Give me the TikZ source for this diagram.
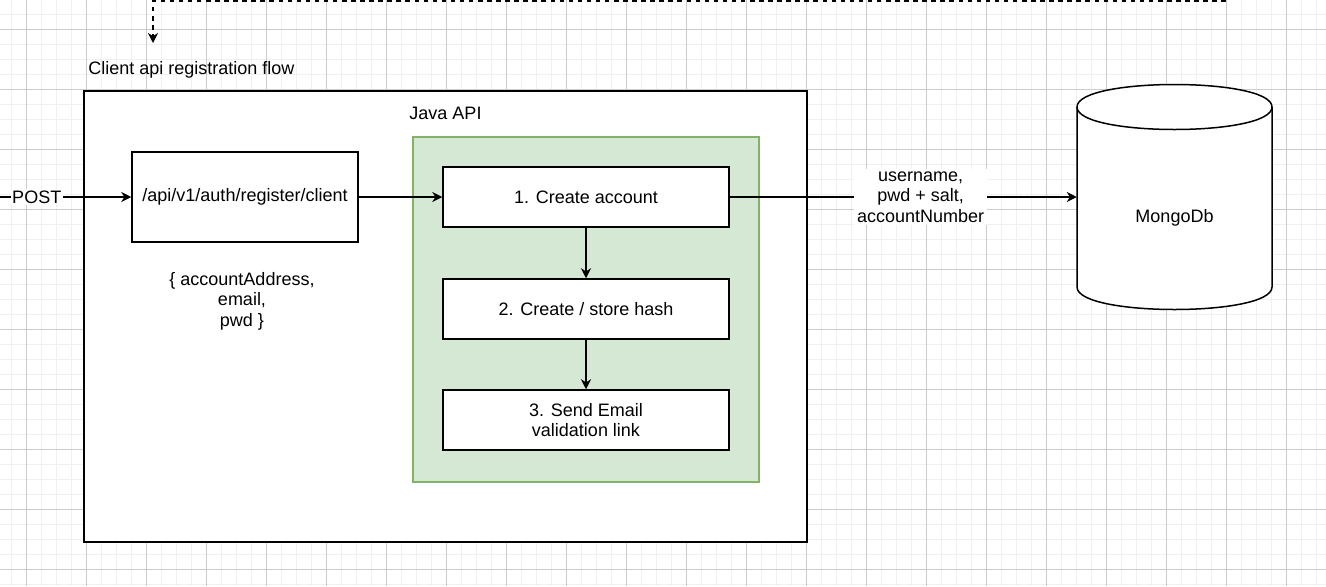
\documentclass[tikz,border=0pt]{standalone}
\usepackage{fontspec}
\setmainfont{Liberation Sans}
\usepackage{xcolor}
\usetikzlibrary{arrows.meta}
\definecolor{greenfill}{HTML}{D5E8D4}
\definecolor{greenline}{HTML}{82B366}
\tikzstyle{every node}=[font=\fontsize{13.5}{15.4}\selectfont]
\tikzstyle{box}=[rectangle,draw=black,fill=white,align=center,line width=1.125pt,minimum width=214.5pt,minimum height=45pt]
\tikzstyle{frame}=[rectangle,draw=black,fill=white,line width=1.125pt]
\tikzstyle{txt}=[align=center,inner sep=0pt]
\tikzstyle{link}=[line width=1.125pt,-{Stealth[length=7.5pt,width=7.5pt,inset=2.4pt]}]

\begin{document}
\begin{tikzpicture}[x=0.75pt,y=-0.75pt]
        \useasboundingbox (0,0) rectangle (1326,586);
        \fill[white] (0,0) rectangle (1326,586);
        % grid
        \foreach \x in {-3.3,11.7,...,1330} \draw[gray!12,line width=0.9pt] (\x,0) -- (\x,586);
        \foreach \y in {-0.7,14.3,...,590} \draw[gray!12,line width=0.9pt] (0,\y) -- (1326,\y);
        \foreach \x in {26.7,86.7,...,1330} \draw[gray!40,line width=0.75pt] (\x,0) -- (\x,586);
        \foreach \y in {29.3,89.3,...,590} \draw[gray!40,line width=0.75pt] (0,\y) -- (1326,\y);

        \coordinate (T1) at (1226,1);
        \coordinate (T2) at (153,1);
        \coordinate (T3) at (153,43);
        \draw [link,dashed,dash pattern=on 3.4pt off 3.4pt] (T1) -- (T2) -- (T3);
        \node at (88,70) [txt,anchor=west] (F) {Client api registration flow};

        \node at (445.5,316.5) [frame,minimum width=542.25pt,minimum height=338.25pt] (J) {};
        \node at (445.5,113) [txt] (JT) {Java API};
        \node at (586,309.5) [frame,draw=greenline,fill=greenfill,minimum width=259.5pt,minimum height=258.75pt] (G) {};

        \node at (245,197) [box,minimum width=169.5pt,minimum height=67.5pt] (R) {/api/v1/auth/register/client};
        \node at (242,301) [txt] (P) {\{ accountAddress,\\ email,\\ pwd \}};
        \node at (586,197) [box] (C) {1. Create account};
        \node at (586,309) [box] (H) {2. Create / store hash};
        \node at (586,420) [box] (E) {3. Send Email\\ validation link};

        % database
        \node at (1174.5,197) [rectangle,minimum width=146.25pt,minimum height=168.75pt] (DB) {};
        \draw [line width=1.125pt,fill=white] (1077,107) .. controls (1077,77) and (1272,77) .. (1272,107) -- (1272,287) .. controls (1272,317) and (1077,317) .. (1077,287) -- cycle;
        \draw [line width=1.125pt] (1077,107) .. controls (1077,137) and (1272,137) .. (1272,107);
        \node at (1174.5,218) [txt] (M) {MongoDb};

        \coordinate (IN) at (0,197);
        \draw [link] (IN) -- node [pos=0.28,fill=white,inner sep=1pt] {POST} (R.west);
        \draw [link] (R) -- (C);
        \draw [link] (C) -- (H);
        \draw [link] (H) -- (E);
        \draw [link] (C) -- node [pos=0.55,fill=white,align=center,inner sep=2pt] {username,\\ pwd + salt,\\ accountNumber} (DB.west);
      \end{tikzpicture}
\end{document}
